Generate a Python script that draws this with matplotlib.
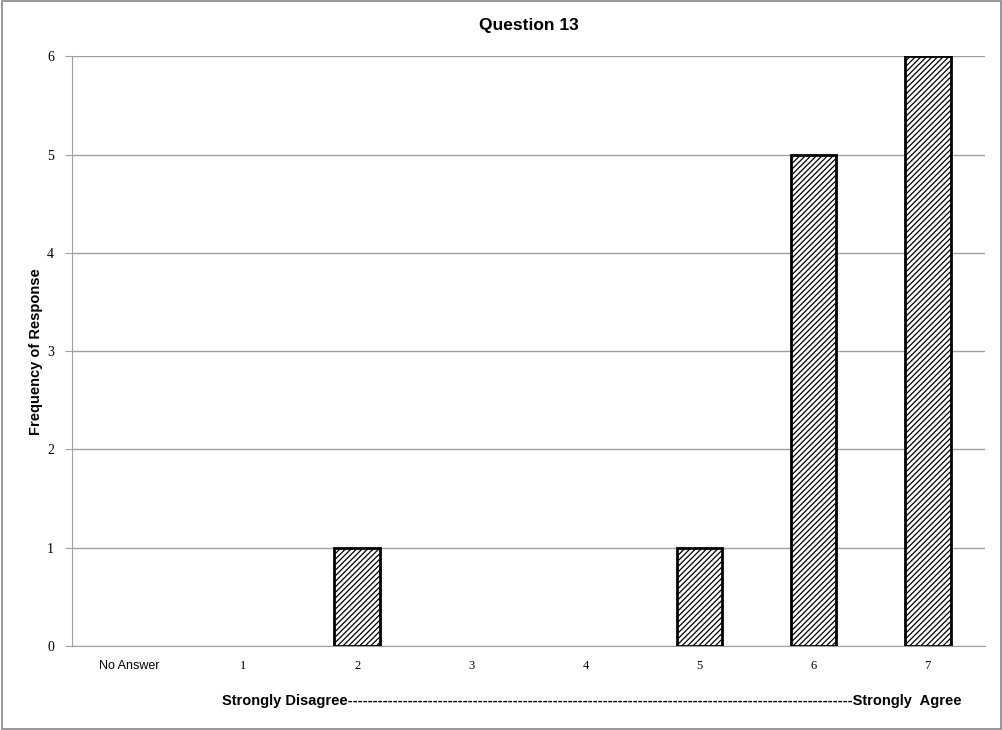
import matplotlib
matplotlib.use('Agg')
import matplotlib.pyplot as plt

categories = ['No Answer', '1', '2', '3', '4', '5', '6', '7']
counts = [0, 0, 1, 0, 0, 1, 5, 6]
yticks = [0, 1, 2, 3, 4, 5, 6]

plt.rcParams['font.family'] = ['Liberation Sans', 'DejaVu Sans']
plt.rcParams['hatch.linewidth'] = 0.9

fig = plt.figure(figsize=(10.03, 7.30), dpi=100)
ax = fig.add_axes([0.0718, 0.115, 0.910, 0.808])

x = list(range(len(categories)))
edges = ['black' if c > 0 else 'none' for c in counts]
ax.bar(x, counts, width=0.4, color='white', edgecolor=edges,
       linewidth=2, hatch='//////', zorder=3)

ax.set_xlim(-0.5, len(categories) - 0.5)
ax.set_ylim(0, 6)
ax.set_yticks(yticks)
ax.set_xticks(x)
ax.set_xticklabels(categories)
ax.yaxis.grid(True, color='#a0a0a0', linewidth=1)
ax.set_axisbelow(True)

for s in ['top', 'right']:
    ax.spines[s].set_visible(False)
for s in ['left', 'bottom']:
    ax.spines[s].set_color('#a0a0a0')
ax.tick_params(axis='x', length=0, pad=10, labelsize=9)
ax.tick_params(axis='y', length=5, color='#a0a0a0', pad=8, labelsize=10)
for lab in ax.get_yticklabels():
    lab.set_fontfamily('Liberation Serif')
for lab in ax.get_xticklabels():
    if lab.get_text() != 'No Answer':
        lab.set_fontfamily('Liberation Serif')

ax.set_title('Question 13', fontsize=12.5, fontweight='bold', pad=19)
ax.set_ylabel('Frequency of Response', fontsize=10.5, fontweight='bold', labelpad=3)
fig.text(0.221, 0.04, 'Strongly Disagree' + '-' * 101 + 'Strongly  Agree',
         fontsize=10.5, fontweight='bold', ha='left', va='center')

border = plt.Rectangle((0.002, 0.002), 0.996, 0.996, transform=fig.transFigure,
                       fill=False, edgecolor='#888888', linewidth=1.2)
fig.patches.append(border)

fig.savefig('out.png', dpi=100)
